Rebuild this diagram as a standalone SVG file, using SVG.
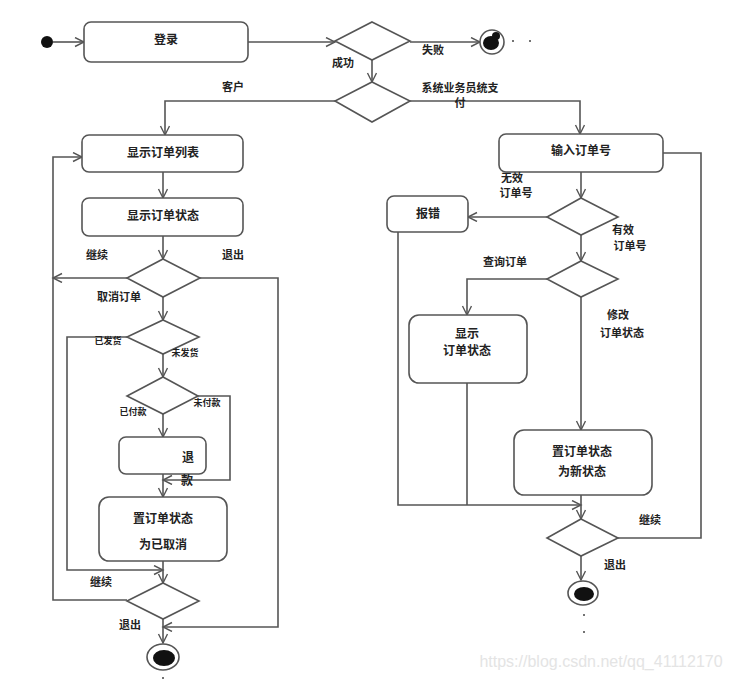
<svg xmlns="http://www.w3.org/2000/svg" width="732" height="680" viewBox="0 0 732 680">
<style>
.box{fill:#fff;stroke:#555;stroke-width:1.6}
.dia{fill:#fff;stroke:#555;stroke-width:1.6}
.ln{fill:none;stroke:#555;stroke-width:1.6}
.ar{marker-end:url(#arr)}
text{font-family:"Noto Sans CJK SC","Liberation Sans",sans-serif;font-weight:bold;fill:#222;text-anchor:middle}
.t{font-size:12px}
.s{font-size:11px}
.xs{font-size:9px}
.wm{font-family:"Liberation Sans",sans-serif;font-weight:normal;font-size:16px;fill:#e4e4e4}
</style>
<defs>
<marker id="arr" markerWidth="12" markerHeight="12" refX="10" refY="5" orient="auto" markerUnits="userSpaceOnUse">
<path d="M1,0.5 L10,5 L1,9.5" fill="none" stroke="#555" stroke-width="1.4"/>
</marker>
</defs>
<rect width="732" height="680" fill="#fff"/>

<g id="connectors">
<line class="ln ar" x1="53" y1="42" x2="84" y2="42"/>
<line class="ln ar" x1="248" y1="42" x2="335" y2="42"/>
<line class="ln ar" x1="410" y1="42" x2="480" y2="42"/>
<line class="ln ar" x1="372" y1="60" x2="372" y2="82"/>
<polyline class="ln ar" points="335,101 165,101 165,135"/>
<polyline class="ln ar" points="410,101 580,101 580,134"/>
<line class="ln ar" x1="163" y1="172" x2="163" y2="198"/>
<line class="ln ar" x1="163" y1="236" x2="163" y2="259"/>
<line class="ln ar" x1="127" y1="278" x2="53" y2="278"/>
<polyline class="ln ar" points="127,600 53,600 53,157 82,157"/>
<polyline class="ln ar" points="200,278 278,278 278,627 163,627"/>
<line class="ln ar" x1="163" y1="297" x2="163" y2="320"/>
<polyline class="ln ar" points="127,337 67,337 67,570 163,570"/>
<line class="ln ar" x1="163" y1="354" x2="163" y2="377"/>
<polyline class="ln ar" points="198,396 230,396 230,480 163,480"/>
<line class="ln ar" x1="163" y1="414" x2="163" y2="437"/>
<line class="ln ar" x1="163" y1="474" x2="163" y2="497"/>
<line class="ln ar" x1="163" y1="561" x2="163" y2="583"/>
<line class="ln ar" x1="163" y1="619" x2="163" y2="643"/>
<line class="ln ar" x1="581" y1="172" x2="581" y2="198"/>
<line class="ln ar" x1="547" y1="217" x2="468" y2="217"/>
<line class="ln ar" x1="581" y1="235" x2="581" y2="261"/>
<polyline class="ln ar" points="547,279 467,279 467,315"/>
<line class="ln ar" x1="581" y1="297" x2="581" y2="430"/>
<polyline class="ln ar" points="398,232 398,505 581,505"/>
<line class="ln" x1="467" y1="383" x2="467" y2="505"/>
<line class="ln ar" x1="581" y1="495" x2="581" y2="519"/>
<polyline class="ln" points="618,538 701,538 701,153 663,153"/>
<line class="ln ar" x1="581" y1="556" x2="581" y2="580"/>
</g>

<g id="start"><circle cx="47" cy="42" r="6" fill="#111"/></g>

<g id="login"><rect class="box" x="84" y="22" width="164" height="40" rx="7"/><text class="t" x="166" y="44">登录</text></g>

<g id="d1"><polygon class="dia" points="372,22 410,41 372,60 335,41"/></g>
<g id="end1">
<circle cx="492" cy="42" r="12" fill="#fff" stroke="#555" stroke-width="1.6"/>
<ellipse cx="491" cy="43" rx="8" ry="7" fill="#111"/>
<circle cx="496" cy="36" r="4" fill="#111"/>
</g>
<g id="dots1"><circle cx="513" cy="41" r="1" fill="#444"/><circle cx="530" cy="41" r="1" fill="#444"/></g>

<g id="d2"><polygon class="dia" points="372,82 410,101 372,122 335,101"/></g>

<g id="listBox"><rect class="box" x="82" y="135" width="161" height="37" rx="7"/><text class="t" x="163" y="157">显示订单列表</text></g>
<g id="stateBox"><rect class="box" x="82" y="198" width="161" height="38" rx="7"/><text class="t" x="163" y="220">显示订单状态</text></g>
<g id="d3"><polygon class="dia" points="163,259 200,278 163,297 127,278"/></g>
<g id="d4"><polygon class="dia" points="163,320 199,337 163,354 127,337"/></g>
<g id="d5"><polygon class="dia" points="163,377 198,396 163,414 127,396"/></g>
<g id="refundBox"><rect class="box" x="119" y="437" width="87" height="37" rx="7"/><text class="t" x="188" y="462">退</text></g>
<g id="cancelBox"><rect class="box" x="99" y="497" width="128" height="64" rx="10"/><text class="t" x="163" y="523">置订单状态</text><text class="t" x="163" y="549">为已取消</text></g>
<g id="d6"><polygon class="dia" points="163,583 199,601 163,619 127,601"/></g>
<g id="end2">
<ellipse cx="163" cy="657" rx="16" ry="13" fill="#fff" stroke="#555" stroke-width="1.6"/>
<ellipse cx="164" cy="658" rx="11" ry="8" fill="#111"/>
<circle cx="163" cy="678" r="1" fill="#444"/>
</g>

<g id="inputBox"><rect class="box" x="499" y="134" width="164" height="38" rx="7"/><text class="t" x="581" y="155">输入订单号</text></g>
<g id="d8"><polygon class="dia" points="581,198 618,217 581,235 547,217"/></g>
<g id="errBox"><rect class="box" x="387" y="196" width="81" height="36" rx="7"/><text class="t" x="428" y="218">报错</text></g>
<g id="d9"><polygon class="dia" points="581,261 618,279 581,297 547,279"/></g>
<g id="showBox"><rect class="box" x="409" y="315" width="118" height="68" rx="10"/><text class="t" x="467" y="338">显示</text><text class="t" x="467" y="355">订单状态</text></g>
<g id="newBox"><rect class="box" x="514" y="430" width="138" height="65" rx="10"/><text class="t" x="582" y="456">置订单状态</text><text class="t" x="582" y="476">为新状态</text></g>
<g id="d10"><polygon class="dia" points="581,519 618,538 581,556 547,538"/></g>
<g id="end3">
<ellipse cx="583" cy="593" rx="15" ry="12" fill="#fff" stroke="#555" stroke-width="1.6"/>
<ellipse cx="584" cy="594" rx="10" ry="7" fill="#111"/>
<circle cx="584" cy="615" r="1" fill="#444"/><circle cx="584" cy="632" r="1" fill="#444"/>
</g>

<g id="labels">
<text class="s" x="343" y="67">成功</text>
<text class="s" x="433" y="54">失败</text>
<text class="s" x="233" y="91">客户</text>
<text class="s" x="460" y="92">系统业务员统支</text>
<text class="s" x="460" y="107">付</text>
<text class="s" x="97" y="259">继续</text>
<text class="s" x="233" y="259">退出</text>
<text class="s" x="119" y="301">取消订单</text>
<text class="xs" x="108" y="344">已发货</text>
<text class="xs" x="185" y="356">未发货</text>
<text class="xs" x="133" y="415">已付款</text>
<text class="xs" x="207" y="406">未付款</text>
<text class="t" x="187" y="485">款</text>
<text class="s" x="101" y="586">继续</text>
<text class="s" x="130" y="629">退出</text>
<text class="s" x="512" y="182">无效</text>
<text class="s" x="516" y="197">订单号</text>
<text class="s" x="623" y="234">有效</text>
<text class="s" x="630" y="250">订单号</text>
<text class="s" x="505" y="266">查询订单</text>
<text class="s" x="618" y="319">修改</text>
<text class="s" x="622" y="337">订单状态</text>
<text class="s" x="650" y="524">继续</text>
<text class="s" x="615" y="569">退出</text>
<text class="wm" x="601" y="667">https://blog.csdn.net/qq_41112170</text>
</g>
</svg>
